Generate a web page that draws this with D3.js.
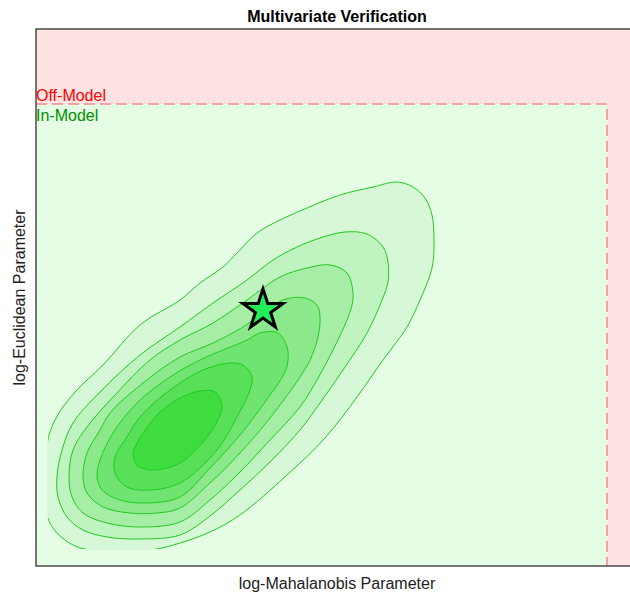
<!DOCTYPE html>
<html>
<head>
<meta charset="utf-8">
<script src="https://d3js.org/d3.v7.min.js"></script>
<style>
  body { margin: 0; background: #fff; }
  text { font-family: "Liberation Sans", Arial, sans-serif; }
</style>
</head>
<body>
<div id="chart"></div>
<script>
// axis extents (log units, no ticks shown)
var xExtent = [0, 6.02];
var yExtent = [0, 5.37];

// in-model limits
var xLimit = 5.71;
var yLimit = 4.62;

// density grid edges (contours are cut off here)
var gridMinX = 0.11;
var gridMinY = 0.16;

// observation
var star = [2.27, 2.56];

// density contour rings, outermost first, [logMahalanobis, logEuclidean]
var ring1 = [[0.11,1.21],[0.19,1.46],[0.39,1.74],[0.67,2.01],[1.04,2.41],[1.44,2.66],[1.64,2.83],
  [1.87,2.99],[2.01,3.13],[2.21,3.33],[2.44,3.46],[2.71,3.58],[3.04,3.71],[3.37,3.79],[3.61,3.84],
  [3.77,3.79],[3.89,3.68],[3.96,3.51],[3.98,3.24],[3.96,2.98],[3.84,2.66],[3.71,2.39],[3.47,2.06],
  [3.21,1.69],[2.89,1.28],[2.51,0.91],[2.04,0.51],[1.74,0.34],[1.44,0.23],[1.14,0.16],[0.54,0.16],
  [0.37,0.21],[0.21,0.33],[0.11,0.51]];
var ring2 = [[0.37,1.43],[0.64,1.74],[1.04,2.11],[1.44,2.39],[1.77,2.63],[2.11,2.86],[2.37,3.06],
  [2.61,3.19],[2.84,3.28],[3.09,3.34],[3.31,3.32],[3.47,3.19],[3.52,3.04],[3.52,2.84],[3.46,2.66],
  [3.31,2.33],[3.07,1.96],[2.79,1.56],[2.64,1.36],[2.34,1.04],[2.04,0.76],[1.74,0.50],[1.44,0.31],
  [1.04,0.27],[0.71,0.29],[0.47,0.36],[0.31,0.49],[0.22,0.69],[0.21,0.89],[0.26,1.16]];
var ring3 = [[0.51,1.39],[0.79,1.71],[1.14,2.06],[1.44,2.26],[1.77,2.43],[2.11,2.66],[2.44,2.89],
  [2.71,2.98],[2.94,3.01],[3.11,2.93],[3.17,2.74],[3.16,2.61],[3.11,2.46],[2.97,2.16],[2.81,1.86],
  [2.64,1.59],[2.34,1.26],[2.04,0.94],[1.74,0.66],[1.44,0.44],[1.04,0.39],[0.71,0.43],[0.47,0.53],
  [0.36,0.69],[0.33,0.89],[0.37,1.16]];
var ring4 = [[0.64,1.36],[0.74,1.53],[1.07,1.83],[1.44,2.09],[1.77,2.23],[2.07,2.39],[2.47,2.66],
  [2.69,2.68],[2.81,2.61],[2.84,2.49],[2.82,2.29],[2.74,2.06],[2.64,1.89],[2.34,1.48],[2.04,1.13],
  [1.74,0.83],[1.44,0.58],[1.21,0.53],[0.94,0.53],[0.67,0.59],[0.51,0.73],[0.47,0.89],[0.51,1.13]];
var ring5 = [[0.77,1.33],[1.01,1.63],[1.34,1.89],[1.64,2.06],[2.11,2.26],[2.24,2.33],[2.42,2.33],
  [2.51,2.19],[2.52,2.06],[2.49,1.94],[2.29,1.64],[2.04,1.31],[1.74,0.98],[1.44,0.69],[1.11,0.63],
  [0.84,0.66],[0.66,0.76],[0.61,0.89],[0.64,1.06]];
var ring6 = [[0.91,1.29],[1.04,1.49],[1.34,1.76],[1.67,1.96],[1.94,2.03],[2.07,2.01],[2.16,1.89],
  [2.14,1.76],[2.01,1.49],[1.81,1.16],[1.44,0.83],[1.14,0.76],[0.91,0.79],[0.79,0.93],[0.79,1.09]];
var ring7 = [[0.97,1.13],[1.01,1.01],[1.17,0.96],[1.44,1.03],[1.67,1.24],[1.82,1.46],[1.86,1.61],
  [1.79,1.74],[1.64,1.75],[1.44,1.68],[1.24,1.54],[1.09,1.36],[1.01,1.23]];

var rings = [ring1, ring2, ring3, ring4, ring5, ring6, ring7];
var ringColors = ["#d6f8d6", "#bff3bf", "#a6eea6", "#8be98b", "#70e470", "#58e058", "#3edc3e"];

function init() {
    var w = 630;
    var h = 593;
    var margin = {top: 29, right: -8, bottom: 27, left: 36};

    var svg = d3.select("#chart")
                .append("svg")
                .attr("width", w)
                .attr("height", h);

    var x = d3.scaleLinear().domain(xExtent).range([margin.left, w - margin.right]);
    var y = d3.scaleLinear().domain(yExtent).range([h - margin.bottom, margin.top]);

    // off-model background
    svg.append("rect")
       .attr("x", x(xExtent[0])).attr("y", y(yExtent[1]))
       .attr("width", x(xExtent[1]) - x(xExtent[0]))
       .attr("height", y(yExtent[0]) - y(yExtent[1]))
       .attr("fill", "#fee3e3");

    // in-model region
    svg.append("rect")
       .attr("x", x(xExtent[0])).attr("y", y(yLimit))
       .attr("width", x(xLimit) - x(xExtent[0]))
       .attr("height", y(yExtent[0]) - y(yLimit))
       .attr("fill", "#e5fde5");

    // contours
    var line = d3.line()
                 .x(d => x(d[0]))
                 .y(d => y(d[1]))
                 .curve(d3.curveCatmullRomClosed.alpha(0.5));

    // fills stop at the grid edge, lines stop just inside it
    svg.append("clipPath").attr("id", "fillclip")
       .append("rect")
       .attr("x", x(gridMinX)).attr("y", y(yExtent[1]))
       .attr("width", x(xExtent[1]) - x(gridMinX))
       .attr("height", y(gridMinY) - y(yExtent[1]));

    svg.append("clipPath").attr("id", "lineclip")
       .append("rect")
       .attr("x", x(gridMinX) + 1).attr("y", y(yExtent[1]))
       .attr("width", x(xExtent[1]) - x(gridMinX))
       .attr("height", y(gridMinY) - 1 - y(yExtent[1]));

    svg.append("g")
       .attr("clip-path", "url(#fillclip)")
       .selectAll("path")
       .data(rings)
       .enter()
       .append("path")
       .attr("d", line)
       .attr("fill", (d, i) => ringColors[i]);

    svg.append("g")
       .attr("clip-path", "url(#lineclip)")
       .selectAll("path")
       .data(rings)
       .enter()
       .append("path")
       .attr("d", line)
       .attr("fill", "none")
       .attr("stroke", "#22c922")
       .attr("stroke-width", 1);

    // limit lines
    svg.append("path")
       .attr("d", "M" + x(xExtent[0]) + "," + y(yLimit) + "H" + x(xLimit) + "V" + y(yExtent[0]))
       .attr("fill", "none")
       .attr("stroke", "#f58a8a")
       .attr("stroke-width", 1.5)
       .attr("stroke-dasharray", "11,5");

    svg.append("text")
       .attr("x", x(xExtent[0]))
       .attr("y", y(yLimit) - 3)
       .attr("fill", "#ff0000")
       .style("font-size", "16px")
       .text("Off-Model");

    svg.append("text")
       .attr("x", x(xExtent[0]))
       .attr("y", y(yLimit) + 17)
       .attr("fill", "#008f00")
       .style("font-size", "16px")
       .text("In-Model");

    // star marker
    svg.append("path")
       .attr("d", d3.symbol().type(d3.symbolStar).size(500)())
       .attr("transform", "translate(" + x(star[0]) + "," + y(star[1]) + ")")
       .attr("fill", "#22ee5a")
       .attr("stroke", "#000")
       .attr("stroke-width", 3)
       .attr("stroke-linejoin", "miter");

    // frame
    svg.append("rect")
       .attr("x", x(xExtent[0])).attr("y", y(yExtent[1]))
       .attr("width", x(xExtent[1]) - x(xExtent[0]))
       .attr("height", y(yExtent[0]) - y(yExtent[1]))
       .attr("fill", "none")
       .attr("stroke", "#4a4a4a")
       .attr("stroke-width", 1.5);

    // titles
    var cx = (x(xExtent[0]) + x(xExtent[1])) / 2;
    svg.append("text")
       .attr("x", cx).attr("y", 22)
       .attr("text-anchor", "middle")
       .style("font-size", "16px")
       .style("font-weight", "bold")
       .text("Multivariate Verification");

    svg.append("text")
       .attr("x", cx).attr("y", 589)
       .attr("text-anchor", "middle")
       .style("font-size", "16px")
       .attr("fill", "#222")
       .text("log-Mahalanobis Parameter");

    svg.append("text")
       .attr("transform", "translate(25," + (y(yExtent[0]) + y(yExtent[1])) / 2 + ") rotate(-90)")
       .attr("text-anchor", "middle")
       .style("font-size", "16px")
       .attr("fill", "#222")
       .text("log-Euclidean Parameter");
}

window.onload = init;
</script>
</body>
</html>
